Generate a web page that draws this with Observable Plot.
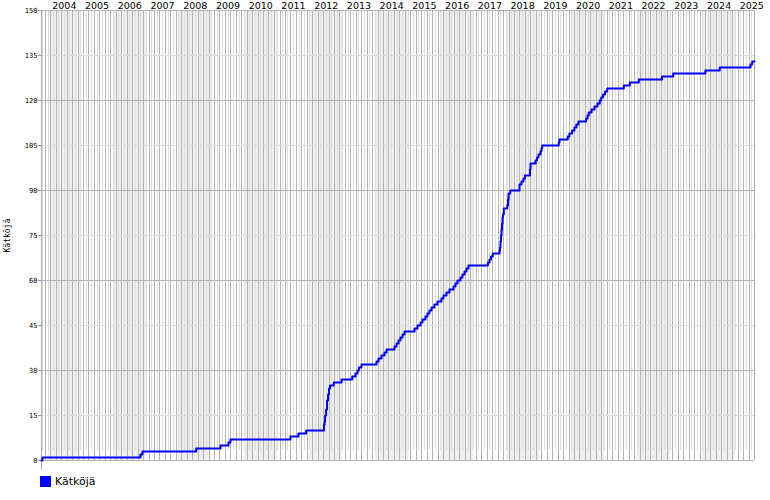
<!DOCTYPE html>
<html><head><meta charset="utf-8">
<script src="https://cdn.jsdelivr.net/npm/d3@7"></script>
<script src="https://cdn.jsdelivr.net/npm/@observablehq/plot@0.6"></script>
<style>
body{margin:0;background:#fff;}
#legend{display:flex;align-items:center;margin-left:40px;margin-top:4px;height:11px;font:11px "DejaVu Sans";color:#000}
#legend .sw{display:inline-block;width:11px;height:11px;background:#0000ff;margin-right:4px}
</style></head><body>
<div id="chart"></div>
<div id="legend"><span class="sw"></span><span id="legtxt"></span></div>
<script>
const seriesName = "Kätköjä";
const dates = [
"2003-10-20","2003-10-31","2006-10-28","2006-11-19","2008-07-11","2009-04-08","2009-07-06","2009-07-28",
"2011-05-28","2011-08-26","2011-11-20","2012-06-06","2012-06-12","2012-06-18","2012-06-29","2012-07-10",
"2012-07-21","2012-08-01","2012-08-12","2012-09-23","2012-12-19","2013-04-17","2013-05-23","2013-06-15",
"2013-07-01","2013-07-29","2014-01-13","2014-02-04","2014-03-09","2014-04-12","2014-05-05","2014-08-02",
"2014-08-24","2014-09-15","2014-10-07","2014-10-30","2014-11-21","2015-03-13","2015-04-15","2015-05-19",
"2015-06-10","2015-07-13","2015-08-04","2015-08-26","2015-09-18","2015-10-21","2015-11-24","2016-01-07",
"2016-01-30","2016-03-03","2016-04-06","2016-05-21","2016-06-12","2016-07-04","2016-08-07","2016-08-29",
"2016-09-21","2016-10-13","2016-11-04","2017-06-08","2017-06-27","2017-07-13","2017-08-02","2017-10-16",
"2017-10-22","2017-10-27","2017-11-02","2017-11-08","2017-11-13","2017-11-19","2017-11-24","2017-12-03",
"2018-01-10","2018-01-19","2018-01-25","2018-02-13","2018-05-27","2018-06-18","2018-07-10","2018-07-27",
"2018-09-21","2018-09-27","2018-11-22","2018-12-08","2018-12-25","2019-01-16","2019-01-27","2019-02-04",
"2019-08-08","2019-08-16","2019-11-16","2019-12-05","2020-01-04","2020-01-30","2020-02-21","2020-03-15",
"2020-06-09","2020-06-24","2020-07-08","2020-08-08","2020-09-10","2020-10-13","2020-11-08","2020-11-24",
"2020-12-14","2021-01-05","2021-01-30","2021-08-03","2021-10-09","2022-01-17","2022-10-04","2023-02-05",
"2024-01-30","2024-07-08","2025-06-16","2025-07-05","2025-07-31"
];
const counts = [
0,1,2,3,4,5,6,7,
8,9,10,12,13,15,17,20,
22,24,25,26,27,28,29,30,
31,32,33,34,35,36,37,38,
39,40,41,42,43,44,45,46,
47,48,49,50,51,52,53,54,
55,56,57,58,59,60,61,62,
63,64,65,66,67,68,69,70,
71,73,75,77,79,81,82,84,
85,87,89,90,92,93,94,95,
97,99,100,101,102,103,104,105,
106,107,108,109,110,111,112,113,
114,115,116,117,118,119,120,121,
122,123,124,125,126,127,128,129,
130,131,132,133,133
];
const yearLabels = [2004,2005,2006,2007,2008,2009,2010,2011,2012,2013,2014,2015,2016,2017,2018,2019,2020,2021,2022,2023,2024,2025];
const yTicks = [0,15,30,45,60,75,90,105,120,135,150];
const xStart = "2003-10-20", xEnd = "2025-07-31";

document.getElementById("legtxt").textContent = seriesName;

const table = dates.map((d,i)=>({date:new Date(d), count:counts[i]}));
const x0 = new Date(xStart), x1 = new Date(xEnd);
const months = d3.utcMonth.range(new Date("2003-11-01"), x1);
const darkMonths = months.filter(d=>d.getUTCMonth()%2===1);
const lightMonths = months.filter(d=>d.getUTCMonth()%2===0);
const bands = yearLabels.filter(y=>y%2===0).map(y=>({a:new Date(Date.UTC(y,0,1)), b:new Date(Date.UTC(Math.min(y+1,2026),0,1))}));
const dark = "#b4b4b4", light = "#dedede";
const crisp = {shapeRendering: "crispEdges"};

const chart = Plot.plot({
  width: 770, height: 472,
  marginLeft: 41, marginRight: 16, marginTop: 10, marginBottom: 12,
  x: {type: "utc", domain: [x0, x1], axis: null},
  y: {domain: [0, 150], axis: null},
  style: {background: "white", overflow: "visible"},
  marks: [
    Plot.rect(bands, {x1: d=>d.a<x0?x0:d.a, x2: d=>d.b>x1?x1:d.b, y1: 0, y2: 150, fill: "#eeeeee", ...crisp}),
    Plot.ruleX(lightMonths, {y1: 3.3, y2: 150, stroke: light, strokeWidth: 1, ...crisp}),
    Plot.ruleX(darkMonths, {y1: 0, y2: 150, stroke: dark, strokeWidth: 1, ...crisp}),
    Plot.ruleY(yTicks.filter(v=>v%30!==0), {stroke: light, ...crisp}),
    Plot.ruleY(yTicks.filter(v=>v%30===0), {stroke: dark, ...crisp}),
    Plot.ruleX([x0], {y1: -3.33, y2: 150, stroke: "#aaaaaa", ...crisp}),
    Plot.ruleX([x1], {y1: 0, y2: 150, stroke: "#aaaaaa", ...crisp}),
    Plot.axisY(yTicks, {tickSize: 3, tickPadding: 1, fontSize: 7, fontFamily: "DejaVu Sans Mono", stroke: "#999", fill: "#000", label: null}),
    Plot.text(yearLabels, {x: d=>new Date(Date.UTC(d,6,1)), y: 150, dy: -5, text: d=>String(d), fontSize: 9.5, fontFamily: "DejaVu Sans", fill: "#000", lineAnchor: "middle"}),
    Plot.text([seriesName], {frameAnchor: "left", dx: -34, dy: 17, rotate: -90, fontSize: 8, fontFamily: "DejaVu Sans Mono", fill: "#000"}),
    Plot.line(table, {x: "date", y: "count", curve: "step-after", stroke: "#0000ff", strokeWidth: 2})
  ]
});
document.getElementById("chart").appendChild(chart);
</script>
</body></html>
